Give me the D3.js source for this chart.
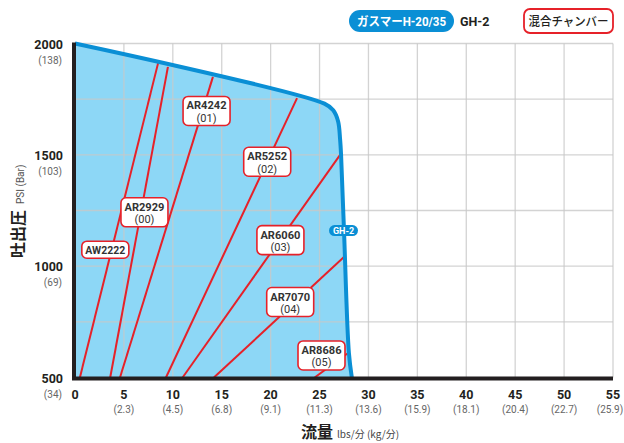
<!DOCTYPE html>
<html>
<head>
<meta charset="utf-8">
<script src="https://cdn.jsdelivr.net/npm/d3@7"></script>
<style>
  body { margin: 0; background: #fff; }
  text { font-family: Roboto, "Noto Sans CJK JP", sans-serif; }
  .jp { font-family: "Noto Sans CJK JP", sans-serif; }
</style>
</head>
<body>
<div id="chart"></div>
<script>
// values
const xTicks = [0, 5, 10, 15, 20, 25, 30, 35, 40, 45, 50, 55];
const xKg = ["", "2.3", "4.5", "6.8", "9.1", "11.3", "13.6", "15.9", "18.1", "20.4", "22.7", "25.9"];
const yTicks = [500, 1000, 1500, 2000];
const yBar = ["34", "69", "103", "138"];
const yGrid = [750, 1000, 1250, 1500, 1750, 2000];

// GH-2 performance curve (flow lbs/min, pressure psi)
const curveFlow = [0, 25.5, 26.4, 26.9, 27.1, 27.2, 27.5, 28.0, 28.3];
const curvePsi  = [2000, 1730, 1700, 1650, 1570, 1500, 1160, 610, 500];

// mixing chambers: flow at 500 psi, and where the line meets the curve
const chambers  = ["AW2222", "AR2929", "AR4242", "AR5252", "AR6060", "AR7070", "AR8686"];
const codes     = ["", "00", "01", "02", "03", "04", "05"];
const baseFlow  = [0.5, 3.6, 4.6, 9.3, 11.0, 14.2, 24.5];
const topFlow   = [8.5, 9.5, 14.1, 22.7, 27.1, 27.55, 28.0];
const topPsi    = [1913, 1895, 1850, 1755, 1500, 1043, 612];

// label centres in chart units
const labelFlow = [3.1, 7.1, 13.45, 19.65, 21.0, 22.0, 25.2];
const labelPsi  = [1074, 1242, 1697, 1469, 1117, 839, 599];

const W = 624, H = 443;
const red = "#e62129", blue = "#0a8fd5", fillBlue = "#8dd7f6", ink = "#231f20";

const svg = d3.select("#chart").append("svg")
  .attr("width", W)
  .attr("height", H);

const x = d3.scaleLinear().domain([0, 55]).range([75, 613]);
const y = d3.scaleLinear().domain([500, 2000]).range([377.5, 43.5]);

const pts = curveFlow.map((f, i) => [f, curvePsi[i]]);

const line = d3.line()
  .x(d => x(d[0]))
  .y(d => y(d[1]))
  .curve(d3.curveCatmullRom.alpha(0.5));

// blue area under curve
svg.append("path")
  .attr("d", line(pts) + `L${x(0)},${y(500)}Z`)
  .attr("fill", fillBlue);

// grid
const grid = svg.append("g")
  .attr("stroke", "#c8c8c8")
  .attr("stroke-opacity", 0.8)
  .attr("stroke-width", 1.3);

grid.selectAll("line.v")
  .data(xTicks.slice(1))
  .enter().append("line")
    .attr("x1", d => x(d)).attr("x2", d => x(d))
    .attr("y1", y(2000)).attr("y2", y(500));

grid.selectAll("line.h")
  .data(yGrid)
  .enter().append("line")
    .attr("x1", x(0)).attr("x2", x(55))
    .attr("y1", d => y(d)).attr("y2", d => y(d));

// chamber lines
svg.selectAll("line.ch")
  .data(chambers)
  .enter().append("line")
    .attr("x1", (d, i) => x(baseFlow[i]))
    .attr("y1", y(500))
    .attr("x2", (d, i) => x(topFlow[i]))
    .attr("y2", (d, i) => y(topPsi[i]))
    .attr("stroke", red)
    .attr("stroke-width", 2);

// curve outline
svg.append("path")
  .attr("d", line(pts))
  .attr("fill", "none")
  .attr("stroke", blue)
  .attr("stroke-width", 4)
  .attr("stroke-linejoin", "round");

// axes
svg.append("line")
  .attr("x1", x(0) - 1).attr("x2", x(0) - 1)
  .attr("y1", y(2000) - 1).attr("y2", y(500) + 2)
  .attr("stroke", ink).attr("stroke-width", 4);
svg.append("line")
  .attr("x1", x(0) - 3).attr("x2", x(55))
  .attr("y1", y(500) + 1).attr("y2", y(500) + 1)
  .attr("stroke", ink).attr("stroke-width", 4);

// chamber labels
const lab = svg.selectAll("g.lab")
  .data(chambers.map((name, i) => ({ name, code: codes[i], f: labelFlow[i], p: labelPsi[i] })))
  .enter().append("g")
    .attr("transform", d => `translate(${x(d.f)},${y(d.p)})`);

lab.append("rect")
  .attr("x", -23.5)
  .attr("y", d => d.code ? -14.5 : -8.5)
  .attr("width", 47)
  .attr("height", d => d.code ? 29 : 17)
  .attr("rx", 5)
  .attr("fill", "#fff")
  .attr("stroke", red)
  .attr("stroke-width", 1.6);

lab.append("text")
  .attr("text-anchor", "middle")
  .attr("y", d => d.code ? -1.5 : 4)
  .attr("font-size", 11.5)
  .attr("font-weight", "bold")
  .attr("fill", "#333")
  .attr("textLength", 40)
  .attr("lengthAdjust", "spacingAndGlyphs")
  .text(d => d.name);

lab.filter(d => d.code !== "").append("text")
  .attr("text-anchor", "middle")
  .attr("y", 11)
  .attr("font-size", 11)
  .attr("fill", "#333")
  .text(d => `(${d.code})`);

// GH-2 tag on the curve
const tag = svg.append("g").attr("transform", `translate(${x(27.5) - 0.5},${y(1160)})`);
tag.append("rect")
  .attr("x", -14.5).attr("y", -5.5).attr("width", 29).attr("height", 11)
  .attr("rx", 5.5).attr("fill", blue);
tag.append("text")
  .attr("text-anchor", "middle").attr("y", 3.5)
  .attr("font-size", 9).attr("font-weight", "bold").attr("fill", "#fff")
  .text("GH-2");

// y tick labels
svg.selectAll("text.yt")
  .data(yTicks)
  .enter().append("text")
    .attr("x", 63)
    .attr("y", d => y(d) + 5)
    .attr("text-anchor", "end")
    .attr("font-size", 12.5)
    .attr("font-weight", "bold")
    .attr("fill", ink)
    .text(d => d);
svg.selectAll("text.yb")
  .data(yTicks)
  .enter().append("text")
    .attr("x", 62)
    .attr("y", d => y(d) + 20)
    .attr("text-anchor", "end")
    .attr("font-size", 10)
    .attr("fill", "#666")
    .text((d, i) => `(${yBar[i]})`);

// x tick labels
svg.selectAll("text.xt")
  .data(xTicks)
  .enter().append("text")
    .attr("x", d => x(d))
    .attr("y", 399)
    .attr("text-anchor", "middle")
    .attr("font-size", 12.5)
    .attr("font-weight", "bold")
    .attr("fill", ink)
    .text(d => d);
svg.selectAll("text.xk")
  .data(xTicks)
  .enter().append("text")
    .attr("x", (d, i) => i === xTicks.length - 1 ? x(d) - 3 : x(d))
    .attr("y", 413)
    .attr("text-anchor", "middle")
    .attr("font-size", 10)
    .attr("fill", "#666")
    .text((d, i) => xKg[i] ? `(${xKg[i]})` : "");

// axis titles
const xt = svg.append("text")
  .attr("x", 301).attr("y", 438)
  .attr("fill", ink);
xt.append("tspan").attr("class", "jp").attr("font-size", 16).attr("font-weight", "bold").text("流量");
xt.append("tspan").attr("class", "jp").attr("font-size", 10).attr("dx", 4).attr("fill", "#444").text("lbs/分 (kg/分)");

const yt = svg.append("text")
  .attr("transform", "translate(24,258) rotate(-90)")
  .attr("fill", ink);
yt.append("tspan").attr("class", "jp").attr("font-size", 16).attr("font-weight", "bold").text("吐出圧");
yt.append("tspan").attr("font-size", 10).attr("dx", 6).attr("fill", "#555").text("PSI (Bar)");

// legend
const lg = svg.append("g");
lg.append("rect")
  .attr("x", 349).attr("y", 10).attr("width", 105).attr("height", 22)
  .attr("rx", 11).attr("fill", blue);
lg.append("text")
  .attr("x", 401.5).attr("y", 25.5)
  .attr("text-anchor", "middle")
  .attr("font-size", 12.5).attr("font-weight", "bold").attr("fill", "#fff")
  .attr("textLength", 89)
  .attr("lengthAdjust", "spacingAndGlyphs")
  .text("ガスマーH-20/35");
lg.append("text")
  .attr("x", 460).attr("y", 25.5)
  .attr("font-size", 12.5).attr("font-weight", "bold").attr("fill", ink)
  .text("GH-2");
lg.append("rect")
  .attr("x", 524).attr("y", 9).attr("width", 89).attr("height", 24)
  .attr("rx", 6).attr("fill", "#fff")
  .attr("stroke", red).attr("stroke-width", 1.8);
lg.append("text")
  .attr("class", "jp")
  .attr("x", 568.5).attr("y", 25.5)
  .attr("text-anchor", "middle")
  .attr("font-size", 12).attr("font-weight", 500).attr("fill", ink)
  .attr("textLength", 80)
  .attr("lengthAdjust", "spacingAndGlyphs")
  .text("混合チャンバー");
</script>
</body>
</html>
